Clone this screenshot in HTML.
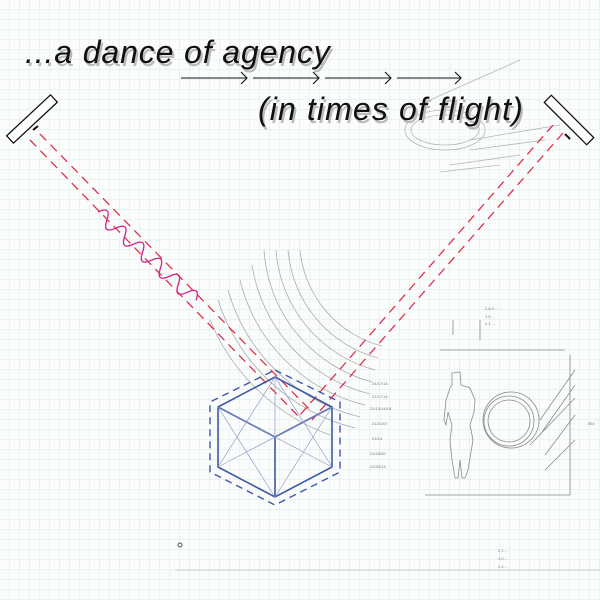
<!DOCTYPE html>
<html><head><meta charset="utf-8"><style>
body{margin:0;background:#fff}
svg{display:block}
</style></head><body>
<svg width="600" height="600" viewBox="0 0 600 600" xmlns="http://www.w3.org/2000/svg">
<defs>
<pattern id="g" width="10" height="10" patternUnits="userSpaceOnUse">
<path d="M10 0V10M0 10H10" fill="none" stroke="#d6ebe6" stroke-width="1"/>
</pattern>
</defs>
<rect width="600" height="600" fill="#fbfdfc"/>
<rect width="600" height="600" fill="url(#g)"/>
<!-- faint arcs (centered upper right, bowing lower-left) -->
<g fill="none" stroke="#8a8a8a" stroke-width="0.8" opacity="0.7">
<path d="M300 250 A110 110 0 0 0 382 346"/>
<path d="M288 250 A122 122 0 0 0 378 358"/>
<path d="M276 250 A134 134 0 0 0 375 370"/>
<path d="M264 250 A146 146 0 0 0 372 382"/>
<path d="M252 265 A158 158 0 0 0 370 394"/>
<path d="M240 280 A170 170 0 0 0 365 405"/>
<path d="M228 290 A182 182 0 0 0 360 417"/>
<path d="M218 300 A194 194 0 0 0 355 428"/>
<path d="M210 320 A206 206 0 0 0 330 435"/>
</g>
<!-- top right faint sketch -->
<g fill="none" stroke="#888" stroke-width="0.8" opacity="0.6">
<ellipse cx="445" cy="130" rx="40" ry="20"/>
<ellipse cx="445" cy="130" rx="34" ry="15"/>
<path d="M470 140L560 125M470 150L545 140M450 165L520 155M440 172L500 165M430 100L520 60"/>
</g>
<!-- right sketch figure -->
<g fill="none" stroke="#666" stroke-width="0.8" opacity="0.75">
<path d="M425 495H570M440 350H565M570 355V495"/>
<path d="M452 373L460 372L461 385L470 388L475 400L474 412L470 425L473 440L468 470L465 478L462 478L460 460L458 478L455 478L452 460L450 440L452 425L448 412L446 425L444 420L446 400L450 388L452 385Z"/>
<circle cx="509" cy="421" r="25"/><circle cx="509" cy="421" r="21"/><circle cx="511" cy="420" r="28"/>
<path d="M540 435L575 385M540 420L575 370M545 455L575 415M545 470L575 440M530 445L575 398"/>
<path d="M453 320V335M480 320V340"/>
</g>
<g font-family="Liberation Sans,sans-serif" font-size="4" fill="#777">
<text x="485" y="310">2.8.4 ...</text><text x="485" y="318">1.0 ...</text><text x="485" y="325">2.1 ...</text>
<text x="372" y="385">24/17/14</text><text x="372" y="398">21/17/14</text><text x="370" y="410">21/13/14/18</text>
<text x="372" y="425">21/21/07</text><text x="372" y="440">21/14</text><text x="370" y="455">21/18/00</text><text x="370" y="468">22/33/14</text>
<text x="588" y="425">554</text>
<text x="498" y="552">2.1 ...</text><text x="498" y="560">1.0 ...</text><text x="498" y="568">2.4 ...</text>
</g>
<path d="M175 570H600" stroke="#aaa" stroke-width="0.6"/>
<circle cx="180" cy="545" r="2" fill="none" stroke="#555"/>
<!-- beams -->
<g stroke="#e0304a" stroke-width="1.3" stroke-dasharray="9 6" fill="none">
<path d="M30 140L300 418"/>
<path d="M40 134L312 412"/>
<path d="M553 125L300 415"/>
<path d="M563 133L312 420"/>
</g>
<!-- wave -->
<g transform="translate(98,212) rotate(42)">
<path d="M0 0 Q6 -14 12 0 T24 0 T36 0 T48 0 T60 0 T72 0 T84 0 T96 0 T108 0 T120 0 T132 0" fill="none" stroke="#d2208a" stroke-width="1.3"/>
</g>
<!-- mirrors -->
<g fill="#fff" stroke="#111" stroke-width="1.3">
<rect x="-30" y="-5" width="60" height="10" transform="translate(32,119) rotate(-43)"/>
<rect x="-30" y="-5" width="60" height="10" transform="translate(569,120) rotate(45)"/>
</g>
<path d="M33 130L38 126" stroke="#111" stroke-width="2"/>
<path d="M565 134L570 139" stroke="#111" stroke-width="2"/>
<!-- cube -->
<g fill="none" stroke="#3f57a8">
<path d="M275 370L340 402V472L275 505L210 472V402Z" stroke-width="1.4" stroke-dasharray="7 5"/>
<path d="M275 377L332 407V467L275 497L218 467V407Z" stroke-width="1.6"/>
<path d="M218 407L275 437L332 407M275 437V497" stroke-width="1.6"/>
<path d="M218 407L275 497M332 407L275 497M275 377V437M218 467L332 407M218 407L332 467M275 377L218 467M275 377L332 467" stroke="#8e9bc8" stroke-width="0.7"/>
</g>
<!-- arrows -->
<g stroke="#111" stroke-width="1.1" fill="none">
<path d="M181 78H247M241 72L247 78L241 84"/>
<path d="M253 78H319M313 72L319 78L313 84"/>
<path d="M325 78H391M385 72L391 78L385 84"/>
<path d="M397 78H461M455 72L461 78L455 84"/>
</g>
<!-- text -->
<g font-family="Liberation Sans,sans-serif" font-style="italic" font-size="32" letter-spacing="1.2">
<text x="27" y="66" fill="#bbb" textLength="306" lengthAdjust="spacing">...a dance of agency</text>
<text x="25" y="63" fill="#111" textLength="306" lengthAdjust="spacing">...a dance of agency</text>
<text x="260" y="123" fill="#bbb" textLength="266" lengthAdjust="spacing">(in times of flight)</text>
<text x="258" y="120" fill="#111" textLength="266" lengthAdjust="spacing">(in times of flight)</text>
</g>
</svg>
</body></html>
